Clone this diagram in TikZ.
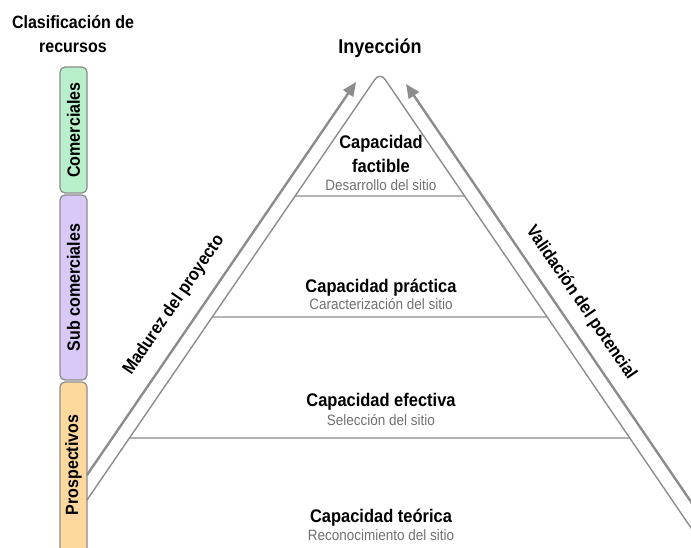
\documentclass[tikz,border=0pt]{standalone}
\usepackage{fontspec}
\setmainfont[FakeStretch=0.9]{Liberation Sans}
\usepackage{tikz}
\usetikzlibrary{arrows.meta}

\definecolor{linegray}{HTML}{8C8C8C}
\definecolor{subgray}{HTML}{707070}
\definecolor{comgreen}{HTML}{B9F0CC}
\definecolor{subpurple}{HTML}{D8C9F7}
\definecolor{prosorange}{HTML}{FFD89E}

\tikzset{
  clase/.style={draw=linegray, line width=1.2pt, rounded corners=5pt, minimum width=27pt,
    inner sep=0pt},
  rotulo/.style={font=\fontsize{17.8}{20}\selectfont\bfseries},
  nivel/.style={align=center, font=\fontsize{18.3}{24}\selectfont\bfseries},
  etapa/.style={text=subgray, font=\fontsize{15}{16}\selectfont},
  flecha/.style={draw=linegray, line width=2.4pt, -{Triangle[length=14pt,width=12pt]}},
  borde/.style={draw=linegray, line width=1.4pt}
}

\begin{document}
\begin{tikzpicture}[x=1pt, y=-1pt]
\useasboundingbox (0,0) rectangle (691,548);

% clasificacion de recursos
\node[align=center, font=\fontsize{17.8}{24}\selectfont\bfseries] (titulo) at (73,34) {Clasificación de\\recursos};
\node[clase, fill=comgreen, minimum height=126pt] (comerciales) at (73.5,130) {};
\node[rotulo, rotate=90] at (comerciales) {Comerciales};
\node[clase, fill=subpurple, minimum height=185pt] (subcom) at (73.5,287.5) {};
\node[rotulo, rotate=90] at (subcom) {Sub comerciales};
\node[clase, fill=prosorange, minimum height=190pt] (prosp) at (73.5,477) {};
\node[rotulo, rotate=90] at (73.5,465) {Prospectivos};

% piramide
\coordinate (apex) at (380,72);
\coordinate (baseL) at (87,500);
\coordinate (baseR) at (700,541);
\draw[borde, rounded corners=9pt] (baseL) -- (apex) -- (baseR);
\foreach \y in {196,317,438}
  \draw[borde] (intersection of apex--baseL and 0,\y--1,\y) -- (intersection of apex--baseR and 0,\y--1,\y);

% flechas
\coordinate (madA) at (87,475);
\coordinate (madB) at (356,82);
\coordinate (valA) at (700,515);
\coordinate (valB) at (406,84);
\draw[flecha] (madA) -- (madB);
\draw[flecha] (valA) -- (valB);
\node[rotulo, rotate=55.6] (madurez) at (174,305) {Madurez del proyecto};
\node[rotulo, rotate=-55.6] (validacion) at (581,303) {Validación del potencial};

% niveles
\node[font=\fontsize{20}{22}\selectfont\bfseries] (inyeccion) at (380,48) {Inyección};
\node[nivel] (factible) at (381,154) {Capacidad\\factible};
\node[etapa] (desarrollo) at (381,185) {Desarrollo del sitio};
\node[nivel] (practica) at (381,288) {Capacidad práctica};
\node[etapa] (caracterizacion) at (381,304) {Caracterización del sitio};
\node[nivel] (efectiva) at (381,402) {Capacidad efectiva};
\node[etapa] (seleccion) at (381,420) {Selección del sitio};
\node[nivel] (teorica) at (381,518) {Capacidad teórica};
\node[etapa] (reconocimiento) at (381,535) {Reconocimiento del sitio};
\end{tikzpicture}
\end{document}
